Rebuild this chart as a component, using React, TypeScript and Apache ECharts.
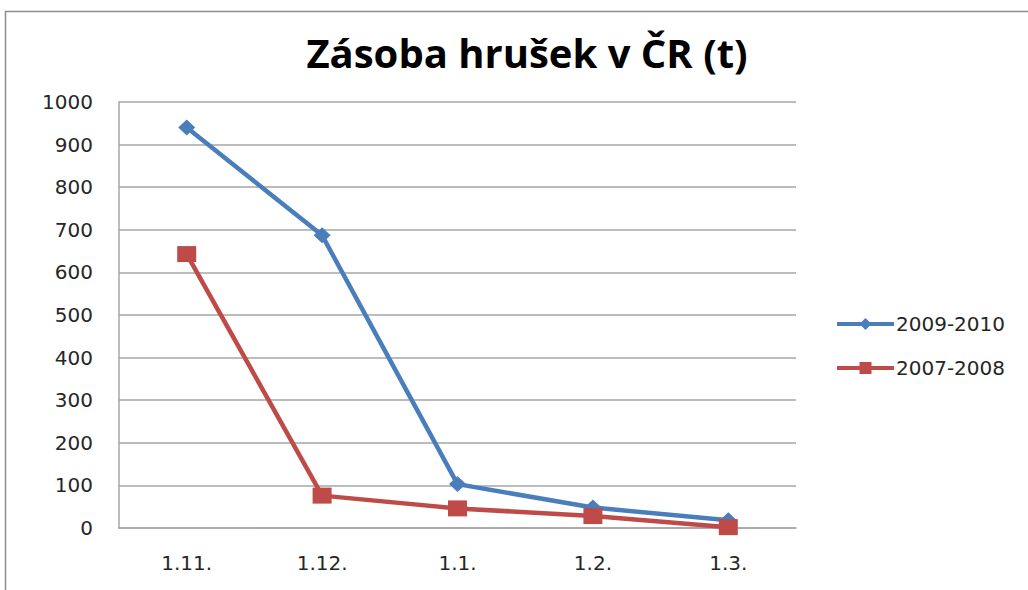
import React, { useEffect, useRef } from "react";
import * as echarts from "echarts";

const categories = ["1.11.", "1.12.", "1.1.", "1.2.", "1.3."];
const series2009 = [940, 687, 103, 48, 18];
const series2007 = [643, 76, 46, 28, 2];
const yTicks = { min: 0, max: 1000, interval: 100 };

export default function App() {
  const ref = useRef<HTMLDivElement>(null);
  useEffect(() => {
    const chart = echarts.init(ref.current!, null, { renderer: "svg" });
    const labelFont = "'DejaVu Sans', Verdana, sans-serif";
    const blue = "#4a7ebb";
    const red = "#be4b48";
    chart.setOption({
      animation: false,
      backgroundColor: "#ffffff",
      graphic: [
        {
          type: "rect",
          shape: { x: 5.5, y: 11.5, width: 1040, height: 600 },
          style: { fill: "none", stroke: "#8c8c8c", lineWidth: 1.5 },
          silent: true,
        },
      ],
      title: {
        text: "Zásoba hrušek v ČR (t)",
        left: 522,
        textAlign: "center",
        top: 27,
        textStyle: {
          fontFamily: "'Open Sans', sans-serif",
          fontWeight: "bold",
          fontSize: 40,
          color: "#000000",
        },
      },
      legend: {
        orient: "vertical",
        left: 830,
        top: 309,
        itemWidth: 57,
        itemHeight: 15,
        itemGap: 24,
        textStyle: { fontFamily: labelFont, fontSize: 20, color: "#262626", padding: [0, 0, 0, -3] },
        data: [
          { name: "2009-2010", lineStyle: { width: 4, color: blue }, itemStyle: { color: blue } },
          { name: "2007-2008", lineStyle: { width: 4, color: red }, itemStyle: { color: red } },
        ],
      },
      grid: { left: 119, right: 232, top: 102, bottom: 62, containLabel: false },
      xAxis: {
        type: "category",
        data: categories,
        boundaryGap: true,
        axisLine: { show: true, lineStyle: { color: "#a6a6a6", width: 1.5 } },
        axisTick: { show: false },
        axisLabel: { fontFamily: labelFont, fontSize: 20, color: "#262626", margin: 25 },
      },
      yAxis: {
        type: "value",
        min: yTicks.min,
        max: yTicks.max,
        interval: yTicks.interval,
        axisLine: { show: true, lineStyle: { color: "#a6a6a6", width: 1.5 } },
        axisTick: { show: false },
        axisLabel: {
          fontFamily: labelFont,
          fontSize: 20,
          color: "#262626",
          margin: 26,
          formatter: (v: number) => String(v),
        },
        splitLine: { show: true, lineStyle: { color: "#a6a6a6", width: 1.5 } },
      },
      series: [
        {
          name: "2009-2010",
          type: "line",
          data: series2009,
          symbol: "diamond",
          symbolSize: [17, 16],
          itemStyle: { color: blue },
          lineStyle: { color: blue, width: 4.5 },
        },
        {
          name: "2007-2008",
          type: "line",
          data: series2007,
          symbol: "rect",
          symbolSize: [19, 16],
          itemStyle: { color: red },
          lineStyle: { color: red, width: 4.5 },
        },
      ],
    });
    return () => chart.dispose();
  }, []);
  return <div ref={ref} style={{ width: 1028, height: 590, position: "absolute", left: 0, top: 0 }} />;
}
